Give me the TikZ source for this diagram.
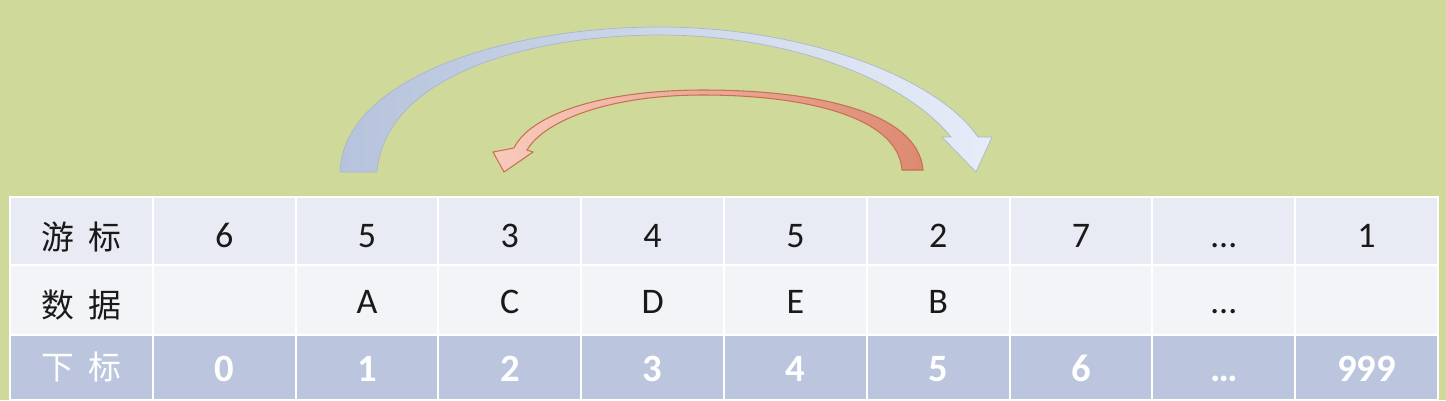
\documentclass[tikz,border=0pt]{standalone}
\usepackage{fontspec}
\setmainfont{Carlito}
\newfontfamily\cjk{Noto Sans CJK SC}

\definecolor{bggreen}{RGB}{207,218,154}
\definecolor{rowtop}{RGB}{232,235,243}
\definecolor{rowmid}{RGB}{243,244,248}
\definecolor{rowidx}{RGB}{187,198,222}
\definecolor{bluetail}{RGB}{182,195,220}
\definecolor{bluehead}{RGB}{230,236,248}
\definecolor{blueedge}{RGB}{170,182,205}
\definecolor{redhead}{RGB}{248,202,188}
\definecolor{redtail}{RGB}{220,138,114}
\definecolor{rededge}{RGB}{200,112,82}

\newcommand{\elide}{…}

\tikzset{
  cell/.style={draw=white, line width=1.2pt, minimum width=2.856cm, inner sep=0pt,
    text depth=0pt, font=\fontsize{20.5}{22}\selectfont, text=black!90},
  toprow/.style={cell, fill=rowtop, minimum height=1.36cm, text height=19.2pt},
  midrow/.style={cell, fill=rowmid, minimum height=1.40cm, text height=15.2pt},
  idxrow/.style={cell, fill=rowidx, minimum height=1.30cm, text=white, text height=16.1pt,
    font=\fontsize{22}{24}\selectfont\bfseries},
  rowlabel/.style={font=\cjk\fontsize{18.7}{20}\selectfont},
}

\begin{document}
\begin{tikzpicture}[x=0.02cm, y=-0.02cm]
  % background
  \fill[bggreen] (0,0) rectangle (1446,400);
  \useasboundingbox (0,0) rectangle (1446,400);

  % row labels
  \node[toprow, rowlabel, text height=21.5pt] (cur0) at (81.4,231) {游\hspace{0.45em}标};
  \node[midrow, rowlabel, text height=19.8pt] (dat0) at (81.4,300) {数\hspace{0.45em}据};
  \node[idxrow, rowlabel, text height=13.6pt] (idx0) at (81.4,367.5) {下\hspace{0.45em}标};

  % table cells
  \foreach \i/\cur/\dat/\idx in {1/6/{}/0, 2/5/A/1, 3/3/C/2, 4/4/D/3, 5/5/E/4,
      6/2/B/5, 7/7/{}/6, 8/\elide/\elide/\elide, 9/1/{}/999} {
    \node[toprow] (cur\i) at (81.4+142.8*\i,231) {\cur};
    \node[midrow] (dat\i) at (81.4+142.8*\i,300) {\dat};
    \node[idxrow] (idx\i) at (81.4+142.8*\i,367.5) {\idx};
  }

  % big arrow, cursor moves forward
  \path[draw=blueedge, line width=0.4pt, left color=bluetail, right color=bluehead]
    (340,172) .. controls (343,80) and (500,27) .. (660,27)
    .. controls (800,27) and (935,75) .. (978,137)
    -- (992,137) -- (976,172) -- (942,137) -- (951,137)
    .. controls (905,80) and (790,35) .. (660,35)
    .. controls (530,35) and (385,75) .. (377,172) -- cycle;

  % small arrow, back again
  \path[draw=rededge, line width=0.6pt, left color=redhead, right color=redtail]
    (923,170) .. controls (918,110) and (810,90) .. (703,90)
    .. controls (600,90) and (530,115) .. (514,148)
    -- (493,152) -- (504,172) -- (533,152) -- (527,150)
    .. controls (545,120) and (610,95) .. (703,95)
    .. controls (800,95) and (898,115) .. (902,170) -- cycle;
\end{tikzpicture}
\end{document}
